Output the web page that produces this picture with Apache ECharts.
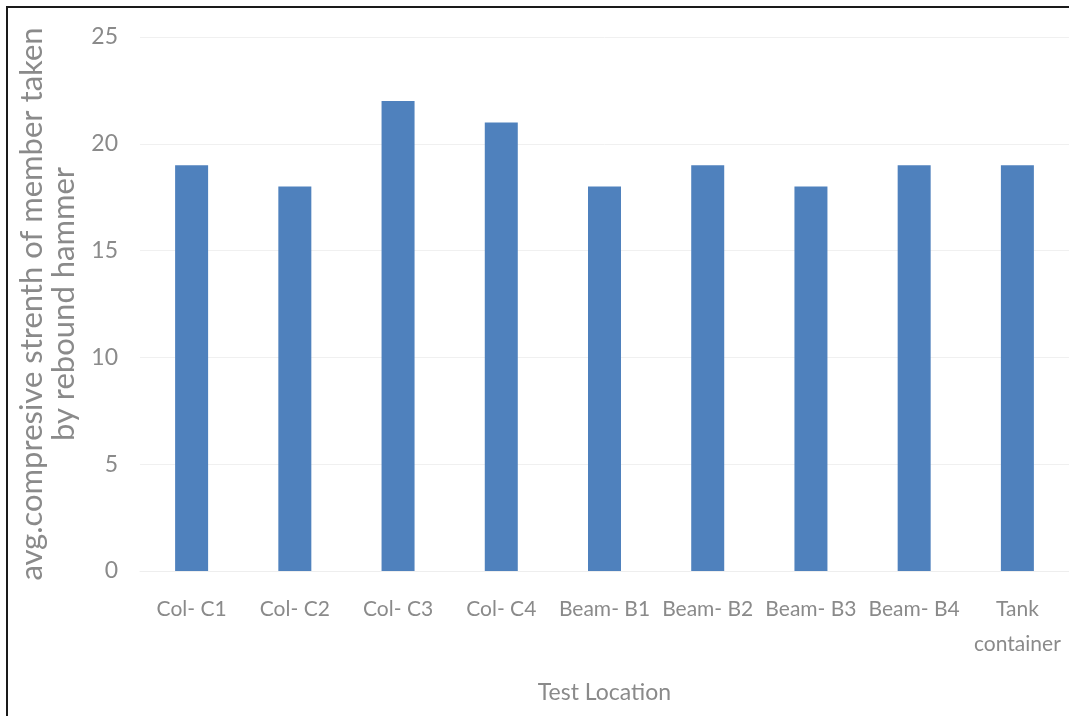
<!DOCTYPE html>
<html>
<head>
<meta charset="utf-8">
<script src="https://cdn.jsdelivr.net/npm/echarts@6/dist/echarts.min.js"></script>
<style>
  html, body { margin: 0; padding: 0; background: #fff; }
  #chart { width: 1069px; height: 716px; }
</style>
</head>
<body>
<div id="chart"></div>
<script>
// Test locations and averaged rebound-hammer compressive strength
const categories = ['Col- C1', 'Col- C2', 'Col- C3', 'Col- C4', 'Beam- B1', 'Beam- B2', 'Beam- B3', 'Beam- B4', 'Tank\ncontainer'];
const strength = [19, 18, 22, 21, 18, 19, 18, 19, 19];
const yTicks = [0, 5, 10, 15, 20, 25];

const FONT = 'Lato, "Open Sans", sans-serif';
const GREY = '#8a8a8a';

const chart = echarts.init(document.getElementById('chart'), null, { renderer: 'canvas' });
chart.setOption({
  animation: false,
  backgroundColor: '#ffffff',
  grid: { left: 140, right: -7, top: 37, bottom: 145, containLabel: false },
  xAxis: {
    type: 'category',
    data: categories,
    name: 'Test Location',
    nameLocation: 'middle',
    nameGap: 110,
    nameTextStyle: { color: GREY, fontFamily: FONT, fontSize: 23 },
    axisLine: { show: true, lineStyle: { color: '#eeeeee', width: 1 } },
    axisTick: { show: false },
    axisLabel: { color: GREY, fontFamily: FONT, fontSize: 21, margin: 21, lineHeight: 35, interval: 0 }
  },
  yAxis: {
    type: 'value',
    min: yTicks[0],
    max: yTicks[yTicks.length - 1],
    interval: 5,
    name: 'avg.compresive strenth of member taken\nby rebound hammer',
    nameLocation: 'middle',
    nameRotate: 90,
    nameGap: 47,
    nameTextStyle: { color: GREY, fontFamily: FONT, fontSize: 31, lineHeight: 32 },
    axisLine: { show: false },
    axisTick: { show: false },
    axisLabel: { color: GREY, fontFamily: FONT, fontSize: 23, margin: 22 },
    splitLine: { lineStyle: { color: '#f0f0f0', width: 1 } }
  },
  series: [{
    type: 'bar',
    data: strength,
    barWidth: 33,
    itemStyle: { color: '#4f81bd' }
  }],
  graphic: [{
    type: 'rect',
    shape: { x: 7, y: 7, width: 1200, height: 900 },
    style: { fill: 'none', stroke: '#1a1a1a', lineWidth: 2 },
    z: 100
  }]
});
</script>
</body>
</html>
